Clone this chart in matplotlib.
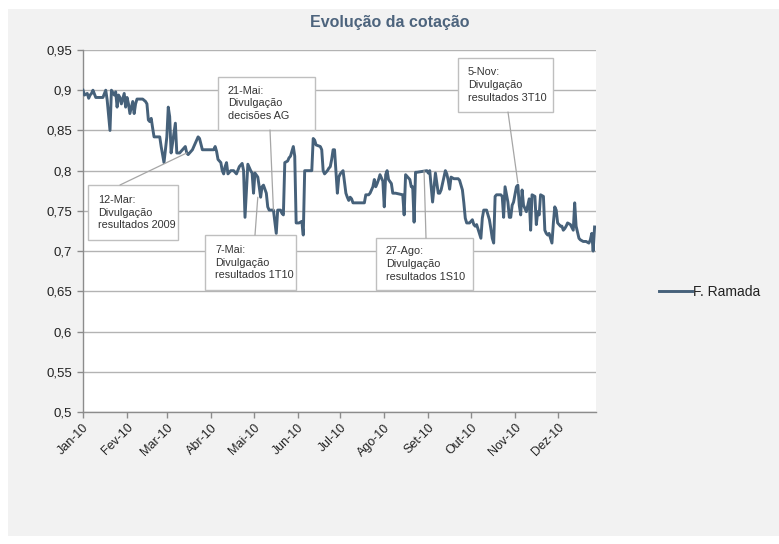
import matplotlib
matplotlib.use("Agg")
import matplotlib.pyplot as plt
from matplotlib.patches import Rectangle
import pandas as pd

plt.rcParams['font.family'] = ['Liberation Sans', 'DejaVu Sans']

# ---------------- data ----------------
series_name = "F. Ramada"
title = "Evolução da cotação"

dates = [
    "2010-01-04", "2010-01-05", "2010-01-07", "2010-01-08", "2010-01-09", "2010-01-10", "2010-01-11",
    "2010-01-13", "2010-01-18", "2010-01-20", "2010-01-21", "2010-01-23", "2010-01-24", "2010-01-26",
    "2010-01-27", "2010-01-28", "2010-01-29", "2010-01-30", "2010-01-31", "2010-02-02", "2010-02-03",
    "2010-02-04", "2010-02-05", "2010-02-06", "2010-02-08", "2010-02-09", "2010-02-10", "2010-02-11",
    "2010-02-15", "2010-02-17", "2010-02-18", "2010-02-19", "2010-02-20", "2010-02-21", "2010-02-22",
    "2010-02-23", "2010-02-26", "2010-02-27", "2010-02-28", "2010-03-02", "2010-03-04", "2010-03-05",
    "2010-03-06", "2010-03-07", "2010-03-08", "2010-03-10", "2010-03-11", "2010-03-13", "2010-03-15",
    "2010-03-17", "2010-03-18", "2010-03-19", "2010-03-22", "2010-03-25", "2010-03-26", "2010-03-27",
    "2010-03-29", "2010-04-06", "2010-04-07", "2010-04-08", "2010-04-09", "2010-04-11", "2010-04-12",
    "2010-04-13", "2010-04-14", "2010-04-15", "2010-04-16", "2010-04-18", "2010-04-20", "2010-04-22",
    "2010-04-24", "2010-04-26", "2010-04-27", "2010-04-28", "2010-04-30", "2010-05-02", "2010-05-03",
    "2010-05-04", "2010-05-05", "2010-05-07", "2010-05-08", "2010-05-09", "2010-05-10", "2010-05-11",
    "2010-05-13", "2010-05-14", "2010-05-15", "2010-05-18", "2010-05-20", "2010-05-21", "2010-05-23",
    "2010-05-24", "2010-05-25", "2010-05-26", "2010-05-28", "2010-05-29", "2010-05-30", "2010-06-01",
    "2010-06-02", "2010-06-03", "2010-06-05", "2010-06-07", "2010-06-08", "2010-06-09", "2010-06-14",
    "2010-06-15", "2010-06-16", "2010-06-17", "2010-06-20", "2010-06-21", "2010-06-22", "2010-06-23",
    "2010-06-25", "2010-06-26", "2010-06-27", "2010-06-28", "2010-06-29", "2010-06-30", "2010-07-02",
    "2010-07-03", "2010-07-04", "2010-07-06", "2010-07-08", "2010-07-09", "2010-07-10", "2010-07-11",
    "2010-07-12", "2010-07-13", "2010-07-21", "2010-07-22", "2010-07-24", "2010-07-25", "2010-07-27",
    "2010-07-28", "2010-07-29", "2010-07-30", "2010-07-31", "2010-08-01", "2010-08-03", "2010-08-04",
    "2010-08-05", "2010-08-06", "2010-08-07", "2010-08-09", "2010-08-10", "2010-08-12", "2010-08-17",
    "2010-08-18", "2010-08-19", "2010-08-20", "2010-08-22", "2010-08-23", "2010-08-24", "2010-08-25",
    "2010-08-26", "2010-08-27", "2010-09-03", "2010-09-04", "2010-09-05", "2010-09-07", "2010-09-09",
    "2010-09-10", "2010-09-11", "2010-09-12", "2010-09-13", "2010-09-16", "2010-09-17", "2010-09-18",
    "2010-09-19", "2010-09-20", "2010-09-22", "2010-09-25", "2010-09-26", "2010-09-28", "2010-09-29",
    "2010-09-30", "2010-10-01", "2010-10-03", "2010-10-05", "2010-10-06", "2010-10-07", "2010-10-08",
    "2010-10-11", "2010-10-12", "2010-10-13", "2010-10-15", "2010-10-17", "2010-10-18", "2010-10-19",
    "2010-10-20", "2010-10-21", "2010-10-22", "2010-10-25", "2010-10-26", "2010-10-27", "2010-10-28",
    "2010-10-30", "2010-10-31", "2010-11-01", "2010-11-02", "2010-11-03", "2010-11-05", "2010-11-06",
    "2010-11-07", "2010-11-08", "2010-11-09", "2010-11-10", "2010-11-12", "2010-11-13", "2010-11-14",
    "2010-11-15", "2010-11-16", "2010-11-18", "2010-11-19", "2010-11-20", "2010-11-21", "2010-11-22",
    "2010-11-24", "2010-11-25", "2010-11-26", "2010-11-27", "2010-11-28", "2010-11-30", "2010-12-01",
    "2010-12-02", "2010-12-03", "2010-12-04", "2010-12-06", "2010-12-07", "2010-12-08", "2010-12-09",
    "2010-12-10", "2010-12-11", "2010-12-13", "2010-12-15", "2010-12-16", "2010-12-17", "2010-12-19",
    "2010-12-20", "2010-12-22", "2010-12-24", "2010-12-26", "2010-12-27", "2010-12-28", "2010-12-29",
    "2010-12-30",
]

prices = [
    0.900, 0.894, 0.896, 0.890, 0.894, 0.896, 0.900,
    0.891, 0.891, 0.900, 0.888, 0.850, 0.900, 0.894,
    0.898, 0.879, 0.894, 0.891, 0.883, 0.896, 0.879,
    0.891, 0.883, 0.871, 0.886, 0.871, 0.883, 0.889,
    0.889, 0.886, 0.883, 0.863, 0.861, 0.865, 0.853,
    0.842, 0.842, 0.842, 0.830, 0.810, 0.842, 0.879,
    0.867, 0.822, 0.834, 0.859, 0.822, 0.822, 0.826,
    0.830, 0.822, 0.820, 0.826, 0.838, 0.842, 0.840,
    0.826, 0.826, 0.830, 0.824, 0.814, 0.810, 0.800,
    0.796, 0.805, 0.810, 0.796, 0.800, 0.800, 0.796,
    0.805, 0.809, 0.800, 0.742, 0.808, 0.800, 0.797,
    0.772, 0.797, 0.792, 0.780, 0.767, 0.780, 0.782,
    0.772, 0.755, 0.751, 0.751, 0.722, 0.751, 0.751,
    0.747, 0.745, 0.810, 0.812, 0.816, 0.818, 0.830,
    0.818, 0.735, 0.735, 0.737, 0.720, 0.800, 0.800,
    0.840, 0.838, 0.832, 0.830, 0.826, 0.800, 0.796,
    0.800, 0.803, 0.805, 0.814, 0.826, 0.826, 0.772,
    0.792, 0.796, 0.800, 0.772, 0.767, 0.763, 0.767,
    0.765, 0.760, 0.760, 0.770, 0.770, 0.772, 0.780,
    0.789, 0.780, 0.784, 0.789, 0.795, 0.787, 0.755,
    0.795, 0.800, 0.789, 0.784, 0.772, 0.772, 0.770,
    0.745, 0.795, 0.793, 0.789, 0.780, 0.780, 0.736,
    0.798, 0.798, 0.800, 0.797, 0.800, 0.761, 0.797,
    0.784, 0.772, 0.772, 0.776, 0.800, 0.796, 0.788,
    0.777, 0.792, 0.790, 0.790, 0.788, 0.776, 0.760,
    0.741, 0.735, 0.735, 0.739, 0.733, 0.731, 0.733,
    0.716, 0.741, 0.751, 0.751, 0.739, 0.728, 0.716,
    0.710, 0.768, 0.770, 0.770, 0.768, 0.742, 0.780,
    0.761, 0.742, 0.742, 0.757, 0.761, 0.780, 0.782,
    0.757, 0.745, 0.776, 0.757, 0.749, 0.757, 0.765,
    0.726, 0.770, 0.768, 0.733, 0.749, 0.745, 0.770,
    0.768, 0.726, 0.722, 0.720, 0.722, 0.710, 0.735,
    0.755, 0.751, 0.735, 0.731, 0.731, 0.726, 0.728,
    0.731, 0.735, 0.733, 0.726, 0.760, 0.731, 0.716,
    0.714, 0.712, 0.712, 0.710, 0.714, 0.722, 0.700,
    0.730,
]

month_ticks = ["2010-01-04", "2010-02-04", "2010-03-04", "2010-04-04", "2010-05-04", "2010-06-04",
               "2010-07-04", "2010-08-04", "2010-09-04", "2010-10-04", "2010-11-04", "2010-12-04"]
month_labels = ["Jan-10", "Fev-10", "Mar-10", "Abr-10", "Mai-10", "Jun-10",
                "Jul-10", "Ago-10", "Set-10", "Out-10", "Nov-10", "Dez-10"]
x_start, x_end = "2010-01-04", "2010-12-31"

y_ticks = [0.50, 0.55, 0.60, 0.65, 0.70, 0.75, 0.80, 0.85, 0.90, 0.95]
y_labels = ["0,5", "0,55", "0,6", "0,65", "0,7", "0,75", "0,8", "0,85", "0,9", "0,95"]

# annotation texts and where their pointers touch the line (date, price)
ann_texts = ["12-Mar:\nDivulgação\nresultados 2009",
             "21-Mai:\nDivulgação\ndecisões AG",
             "7-Mai:\nDivulgação\nresultados 1T10",
             "27-Ago:\nDivulgação\nresultados 1S10",
             "5-Nov:\nDivulgação\nresultados 3T10"]
ann_dates = ["2010-03-18", "2010-05-18", "2010-05-07", "2010-09-01", "2010-11-06"]
ann_prices = [0.822, 0.751, 0.767, 0.800, 0.785]

# ---------------- layout (pixels of the 779x544 image) ----------------
W, H = 779, 544
AX_L, AX_R, AX_T, AX_B = 83, 596, 50, 412
ann_boxes = [(88, 185, 178, 240), (218, 77, 315, 130), (205, 235, 296, 290),
             (376, 238, 473, 290), (458, 58, 553, 112)]
ann_anchor = [(120, 185), (270, 130), (255, 235), (426, 238), (508, 112)]

line_color = "#46617a"
grid_color = "#b3b3b3"
text_color = "#333333"

fig = plt.figure(figsize=(W / 100, H / 100), dpi=100, facecolor="white")
fig.patches.append(Rectangle((8 / W, (H - 536) / H), (W - 8) / W, (536 - 9) / H,
                             transform=fig.transFigure, facecolor="#f2f2f2",
                             edgecolor="none", zorder=-10))

ax = fig.add_axes([AX_L / W, (H - AX_B) / H, (AX_R - AX_L) / W, (AX_B - AX_T) / H])
ax.set_facecolor("white")

def px2ax(x, y):
    return ((x - AX_L) / (AX_R - AX_L), (AX_B - y) / (AX_B - AX_T))

d = pd.to_datetime(dates)
ax.plot(d, prices, color=line_color, lw=2.1, solid_joinstyle="round", label=series_name, zorder=3)

ax.set_xlim(pd.Timestamp(x_start), pd.Timestamp(x_end))
ax.set_ylim(0.5, 0.95)
ax.set_yticks(y_ticks)
ax.set_yticklabels(y_labels)
ax.set_xticks(pd.to_datetime(month_ticks))
ax.set_xticklabels(month_labels, rotation=45, ha="right", rotation_mode="anchor")

ax.yaxis.grid(True, color=grid_color, lw=1.0)
ax.set_axisbelow(True)
for s in ["top", "right"]:
    ax.spines[s].set_visible(False)
for s in ["left", "bottom"]:
    ax.spines[s].set_color("#8c8c8c")
    ax.spines[s].set_linewidth(1.0)
ax.tick_params(axis="both", colors="#8c8c8c", length=4, width=1)
ax.tick_params(axis="y", labelsize=9.5, labelcolor="#222222", pad=4)
ax.tick_params(axis="x", labelsize=9, labelcolor="#222222", pad=3, direction="out")

for txt, bx, anc, ad, ap in zip(ann_texts, ann_boxes, ann_anchor, ann_dates, ann_prices):
    l, t, r, b = bx
    x0, y0 = px2ax(l, b)
    x1, y1 = px2ax(r, t)
    ax.add_patch(Rectangle((x0, y0), x1 - x0, y1 - y0, transform=ax.transAxes,
                           facecolor="white", edgecolor="#bfbfbf", lw=1.0, zorder=4,
                           clip_on=False))
    tx, ty = px2ax(l + 10, (t + b) / 2)
    ax.text(tx, ty, txt, transform=ax.transAxes, ha="left", va="center",
            fontsize=7.8, color=text_color, linespacing=1.35, zorder=5)
    ax.annotate("", xy=(pd.Timestamp(ad), ap), xycoords="data",
                xytext=px2ax(*anc), textcoords="axes fraction",
                arrowprops=dict(arrowstyle="-", color="#a6a6a6", lw=0.9,
                                shrinkA=0, shrinkB=0), zorder=4)

fig.text(0.5, 1 - 22 / H, title, ha="center", va="center", fontsize=11.5,
         fontweight="bold", color="#4d647d")

fig.legend(loc="center left", bbox_to_anchor=(646 / W, 1 - 292 / H), frameon=False,
           fontsize=10, handlelength=2.4, handletextpad=0.05, labelcolor="#222222")

fig.savefig("out.png", dpi=100, facecolor=fig.get_facecolor())
